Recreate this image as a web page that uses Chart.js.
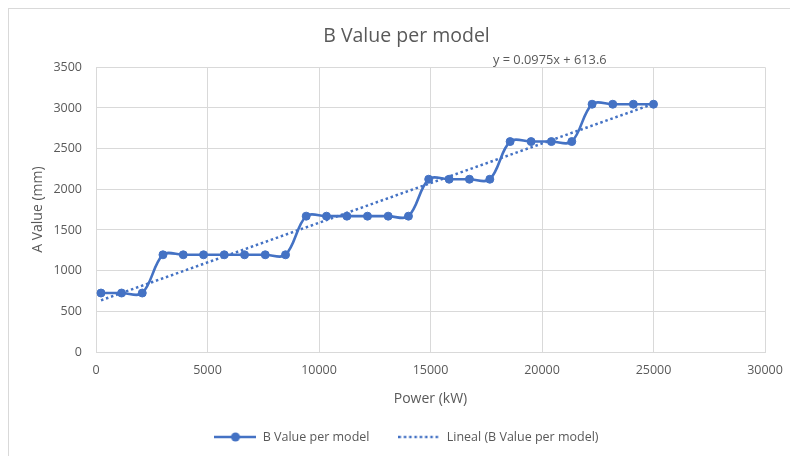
<!DOCTYPE html>
<html>
<head>
<meta charset="utf-8">
<script src="https://cdn.jsdelivr.net/npm/chart.js@4/dist/chart.umd.min.js"></script>
<style>
    html, body { margin: 0; padding: 0; background: #fff; overflow: hidden; }
    .wrap { position: relative; width: 790px; height: 456px; }
    .frame {
        position: absolute; left: 8px; top: 8px;
        width: 1000px; height: 1000px;
        border: 1px solid #d9d9d9;
    }
    #myChart { position: absolute; left: 0; top: 0; }
</style>
</head>
<body>
<div class="wrap">
    <div class="frame"></div>
    <canvas id="myChart" width="790" height="456"></canvas>
</div>
<script>
// power of each model (kW) and its B value (mm)
const powerKW = [
    224, 1147, 2075, 3003, 3913, 4823, 5751, 6661, 7589, 8499,
    9426, 10336, 11251, 12174, 13102, 14012, 14920, 15836, 16746, 17660,
    18570, 19511, 20421, 21336, 22246, 23174, 24097, 25000
];
const bValue = [
    725, 725, 725, 1195, 1195, 1195, 1195, 1195, 1195, 1195,
    1670, 1670, 1670, 1670, 1670, 1670, 2124, 2124, 2124, 2124,
    2587, 2587, 2587, 2587, 3046, 3046, 3046, 3046
];

// linear trend line, as printed on the chart
const trendSlope = 0.0975;
const trendIntercept = 613.6;

const xTicks = [0, 5000, 10000, 15000, 20000, 25000, 30000];
const yTicks = [0, 500, 1000, 1500, 2000, 2500, 3000, 3500];

const seriesName = 'B Value per model';
const trendName = 'Lineal (B Value per model)';

const blue = '#4472C4';
const textGrey = '#595959';
const gridGrey = '#d9d9d9';
const fontFamily = "'Open Sans', sans-serif";

const xMin = powerKW[0];
const xMax = powerKW[powerKW.length - 1];
const trendPoints = [
    {x: xMin, y: trendSlope * xMin + trendIntercept},
    {x: xMax, y: trendSlope * xMax + trendIntercept}
];

// little canvases used as legend symbols
function legendSymbol(dotted) {
    const c = document.createElement('canvas');
    c.width = 42;
    c.height = 12;
    const g = c.getContext('2d');
    g.strokeStyle = blue;
    g.lineWidth = 2.5;
    if (dotted) g.setLineDash([2.5, 2.8]);
    g.beginPath();
    g.moveTo(0, 6);
    g.lineTo(42, 6);
    g.stroke();
    if (!dotted) {
        g.fillStyle = blue;
        g.beginPath();
        g.arc(21, 6, 4.5, 0, Math.PI * 2);
        g.fill();
    }
    return c;
}
const seriesSymbol = legendSymbol(false);
const trendSymbol = legendSymbol(true);

const equationLabel = {
    id: 'equationLabel',
    afterDatasetsDraw(chart) {
        const ctx = chart.ctx;
        const xs = chart.scales.x;
        ctx.save();
        ctx.font = '12.8px ' + fontFamily;
        ctx.fillStyle = textGrey;
        ctx.textAlign = 'center';
        ctx.textBaseline = 'middle';
        const eq = 'y = ' + trendSlope + 'x + ' + trendIntercept;
        ctx.fillText(eq, xs.getPixelForValue(20350), chart.chartArea.top - 7);
        ctx.restore();
    }
};

const data = {
    datasets: [{
        label: seriesName,
        data: powerKW.map((p, i) => ({x: p, y: bValue[i]})),
        showLine: true,
        borderColor: blue,
        backgroundColor: blue,
        borderWidth: 2.6,
        tension: 0.35,
        pointRadius: 4,
        pointBorderWidth: 1,
        pointHoverRadius: 5,
    }, {
        label: trendName,
        data: trendPoints,
        showLine: true,
        borderColor: blue,
        borderWidth: 2.5,
        borderDash: [2.5, 2.8],
        pointRadius: 0,
        pointHoverRadius: 0,
    }]
};

const config = {
    type: 'scatter',
    data: data,
    options: {
        responsive: false,
        animation: false,
        layout: {
            padding: {left: 48, right: 25, top: 0, bottom: 2.75}
        },
        plugins: {
            title: {
                display: true,
                text: 'B Value per model',
                color: textGrey,
                font: {family: fontFamily, size: 19.5, weight: 'normal'},
                padding: {top: 25, bottom: 18.9}
            },
            legend: {
                position: 'bottom',
                labels: {
                    usePointStyle: true,
                    pointStyleWidth: 42,
                    padding: 29,
                    color: textGrey,
                    font: {family: fontFamily, size: 12.5},
                    generateLabels: () => [
                        {text: seriesName, pointStyle: seriesSymbol, fontColor: textGrey, datasetIndex: 0, hidden: false, lineWidth: 0},
                        {text: trendName, pointStyle: trendSymbol, fontColor: textGrey, datasetIndex: 1, hidden: false, lineWidth: 0}
                    ]
                }
            },
            tooltip: {enabled: true}
        },
        scales: {
            x: {
                type: 'linear',
                min: xTicks[0],
                max: xTicks[xTicks.length - 1],
                afterBuildTicks: (scale) => { scale.ticks = xTicks.map(v => ({value: v})); },
                afterFit: (scale) => { scale.height = 49.75; },
                // tick marks kept invisible; their length only spaces the labels
                grid: {color: gridGrey, drawTicks: true, tickLength: 7.5, tickColor: 'rgba(0,0,0,0)'},
                border: {color: gridGrey},
                ticks: {
                    color: textGrey,
                    padding: 3,
                    maxRotation: 0,
                    font: {family: fontFamily, size: 12.5},
                    callback: (v) => String(v)
                },
                title: {
                    display: true,
                    text: 'Power (kW)',
                    color: textGrey,
                    font: {family: fontFamily, size: 14},
                    padding: {top: 0, bottom: -5.6}
                }
            },
            y: {
                type: 'linear',
                min: yTicks[0],
                max: yTicks[yTicks.length - 1],
                afterBuildTicks: (scale) => { scale.ticks = yTicks.map(v => ({value: v})); },
                afterFit: (scale) => { scale.width = 48; },
                grid: {color: gridGrey, drawTicks: false},
                border: {color: gridGrey},
                ticks: {
                    color: textGrey,
                    padding: 14,
                    font: {family: fontFamily, size: 12.5},
                    callback: (v) => String(v)
                },
                title: {
                    display: true,
                    text: 'A Value (mm)',
                    color: textGrey,
                    font: {family: fontFamily, size: 14},
                    padding: {top: -18.1, bottom: 0}
                }
            }
        }
    },
    plugins: [equationLabel]
};

const myChart = new Chart(
    document.getElementById('myChart'),
    config
);
</script>
</body>
</html>
